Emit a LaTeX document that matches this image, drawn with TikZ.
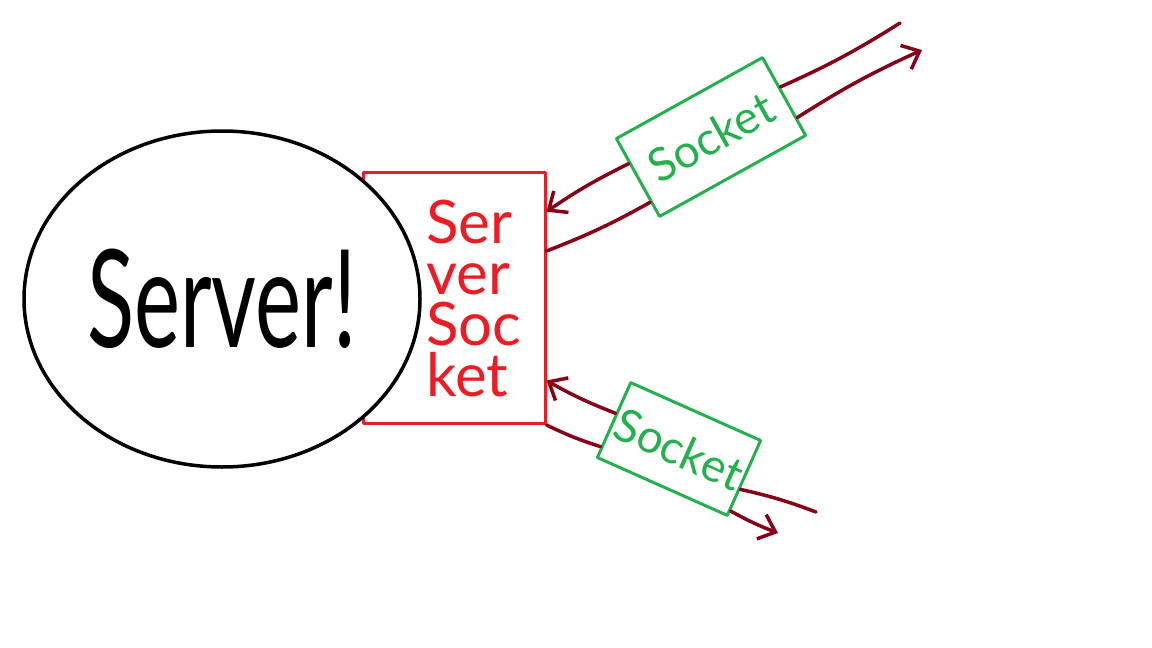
\documentclass[tikz,border=0pt]{standalone}
\usepackage{fontspec}
\setmainfont{Lato}
\usepackage{graphicx}
\usetikzlibrary{shapes.geometric,arrows.meta,calc}
\definecolor{paintred}{RGB}{237,28,36}
\definecolor{paintgreen}{RGB}{34,177,76}
\definecolor{wire}{RGB}{136,0,21}

\begin{document}
\begin{tikzpicture}[x=1pt, y=-1pt, line cap=round, line join=round,
  >={Straight Barb[length=15pt,width=26pt]},
  sockbox/.style={draw=paintgreen, line width=3pt, rectangle, text=paintgreen,
    font=\fontsize{46}{46}\selectfont},
  link/.style={draw=wire, line width=3.5pt}]

\useasboundingbox (0,0) rectangle (1152,648);

\node[draw=paintred, line width=3pt, minimum width=182pt, minimum height=251pt] (ssock) at (454,298) {};
\node[ellipse, draw, fill=white, line width=3.5pt, minimum width=396pt, minimum height=336pt,
  font=\fontsize{136}{136}\selectfont] (server) at (222,299) {\scalebox{0.64}[1]{Server!}};
\node[align=left, text=paintred, font=\fontsize{60}{51}\selectfont] (sstext) at (474,298) {Ser\\ver\\Soc\\ket};

\node[sockbox, minimum width=167pt, minimum height=89pt, rotate=29] (sockA) at (711,137) {Socket};
\node[sockbox, minimum width=140pt, minimum height=82pt, rotate=-24] (sockB) at (679,449) {Socket};

\coordinate (outA) at (900,23);
\coordinate (tipA) at (922,50);
\coordinate (outB) at (816,512);
\coordinate (tipB) at (778,533);

\draw[link,->] ($(sockA.north west)!0.32!(sockA.south west)$) to[bend right=4] ($(ssock.north east)!0.16!(ssock.south east)$);
\draw[link] ($(sockA.north west)!0.8!(sockA.south west)$) to[bend left=4] ($(ssock.north east)!0.315!(ssock.south east)$);
\draw[link] ($(sockA.north east)!0.39!(sockA.south east)$) to[bend right=4] (outA);
\draw[link,->] ($(sockA.north east)!0.77!(sockA.south east)$) to[bend left=4] (tipA);

\draw[link,->] ($(sockB.north west)!0.42!(sockB.south west)$) to[bend left=4] ($(ssock.north east)!0.825!(ssock.south east)$);
\draw[link] (ssock.south east) to[bend right=4] ($(sockB.north west)!0.85!(sockB.south west)$);
\draw[link] ($(sockB.north east)!0.64!(sockB.south east)$) to[bend left=4] (outB);
\draw[link,->] ($(sockB.north east)!0.92!(sockB.south east)$) to[bend right=4] (tipB);

\end{tikzpicture}
\end{document}
